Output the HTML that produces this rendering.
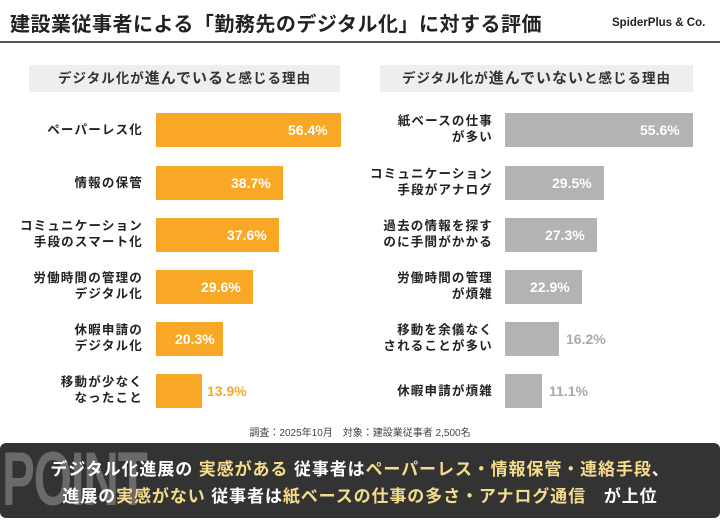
<!DOCTYPE html>
<html><head><meta charset="utf-8"><style>
*{margin:0;padding:0;box-sizing:border-box}
body{width:720px;height:514px;background:#fff;position:relative;overflow:hidden;font-family:"Liberation Sans","Noto Sans CJK JP",sans-serif;font-weight:bold;color:#222}
.a{position:absolute}
.title{left:10px;top:8px;font-size:20px;letter-spacing:0.5px}
.logo{left:612px;top:17px;font-size:11.5px}
.hr{left:0;top:41px;width:720px;height:2px;background:#555}
.hd{top:65px;height:27px;background:#eeeeee;font-size:15px;text-align:center;line-height:27px;color:#333;letter-spacing:1px;white-space:nowrap}
.hd span{font-size:13.5px}
.lab{font-size:12.5px;text-align:right;line-height:16px;width:160px;letter-spacing:1.2px}
.bar{height:34px}
.o{background:#f9a825}.g{background:#b3b3b3}
.v{font-size:14px;line-height:34px}
.foot{left:0;width:720px;top:424px;text-align:center;font-size:10px;font-weight:normal;color:#444}
.box{left:0;top:443px;width:720px;height:75px;background:#333;border-radius:6px;overflow:hidden}
.point{left:2px;top:436px;font-size:76px;color:#6a6a6a;font-family:"Liberation Sans Narrow","Liberation Sans",sans-serif;letter-spacing:-2px;transform:scaleX(0.65);transform-origin:left}
.pl{width:720px;text-align:center;color:#fff;font-size:17px;left:0;letter-spacing:0.9px}
.y{color:#f5dc8c}
</style></head><body>
<div class="a title">建設業従事者による「勤務先のデジタル化」に対する評価</div>
<div class="a logo">SpiderPlus &amp; Co.</div>
<div class="a hr"></div>
<div class="a hd" style="left:29px;width:311px"><span>デジタル化が</span>進んでいる<span>と感じる理由</span></div>
<div class="a hd" style="left:380px;width:313px"><span>デジタル化が</span>進んでいない<span>と感じる理由</span></div>

<!-- left -->
<div class="a lab" style="left:-17px;top:122px">ペーパーレス化</div>
<div class="a bar o" style="left:156px;top:113px;width:185px"></div><div class="a v" style="left:288px;top:113px;color:#fff">56.4%</div>
<div class="a lab" style="left:-17px;top:175px">情報の保管</div>
<div class="a bar o" style="left:156px;top:166px;width:127px"></div><div class="a v" style="left:231px;top:166px;color:#fff">38.7%</div>
<div class="a lab" style="left:-17px;top:218px">コミュニケーション<br>手段のスマート化</div>
<div class="a bar o" style="left:156px;top:218px;width:123px"></div><div class="a v" style="left:227px;top:218px;color:#fff">37.6%</div>
<div class="a lab" style="left:-17px;top:270px">労働時間の管理の<br>デジタル化</div>
<div class="a bar o" style="left:156px;top:270px;width:97px"></div><div class="a v" style="left:201px;top:270px;color:#fff">29.6%</div>
<div class="a lab" style="left:-17px;top:322px">休暇申請の<br>デジタル化</div>
<div class="a bar o" style="left:156px;top:322px;width:67px"></div><div class="a v" style="left:175px;top:322px;color:#fff">20.3%</div>
<div class="a lab" style="left:-17px;top:374px">移動が少なく<br>なったこと</div>
<div class="a bar o" style="left:156px;top:374px;width:46px"></div><div class="a v" style="left:207px;top:374px;color:#f9a825">13.9%</div>

<!-- right -->
<div class="a lab" style="left:333px;top:113px">紙ベースの仕事<br>が多い</div>
<div class="a bar g" style="left:505px;top:113px;width:188px"></div><div class="a v" style="left:640px;top:113px;color:#fff">55.6%</div>
<div class="a lab" style="left:333px;top:166px">コミュニケーション<br>手段がアナログ</div>
<div class="a bar g" style="left:505px;top:166px;width:99px"></div><div class="a v" style="left:552px;top:166px;color:#fff">29.5%</div>
<div class="a lab" style="left:333px;top:218px">過去の情報を探す<br>のに手間がかかる</div>
<div class="a bar g" style="left:505px;top:218px;width:92px"></div><div class="a v" style="left:545px;top:218px;color:#fff">27.3%</div>
<div class="a lab" style="left:333px;top:270px">労働時間の管理<br>が煩雑</div>
<div class="a bar g" style="left:505px;top:270px;width:77px"></div><div class="a v" style="left:530px;top:270px;color:#fff">22.9%</div>
<div class="a lab" style="left:333px;top:322px">移動を余儀なく<br>されることが多い</div>
<div class="a bar g" style="left:505px;top:322px;width:54px"></div><div class="a v" style="left:566px;top:322px;color:#aaa">16.2%</div>
<div class="a lab" style="left:333px;top:383px">休暇申請が煩雑</div>
<div class="a bar g" style="left:505px;top:374px;width:37px"></div><div class="a v" style="left:549px;top:374px;color:#aaa">11.1%</div>

<div class="a foot">調査：2025年10月　対象：建設業従事者 2,500名</div>
<div class="a box"></div>
<div class="a point">POINT</div>
<div class="a pl" style="top:455px">デジタル化進展の <span class="y">実感がある</span> 従事者は<span class="y">ペーパーレス・情報保管・連絡手段</span>、</div>
<div class="a pl" style="top:482px">進展の<span class="y">実感がない</span> 従事者は<span class="y">紙ベースの仕事の多さ・アナログ通信</span>　が上位</div>
</body></html>
